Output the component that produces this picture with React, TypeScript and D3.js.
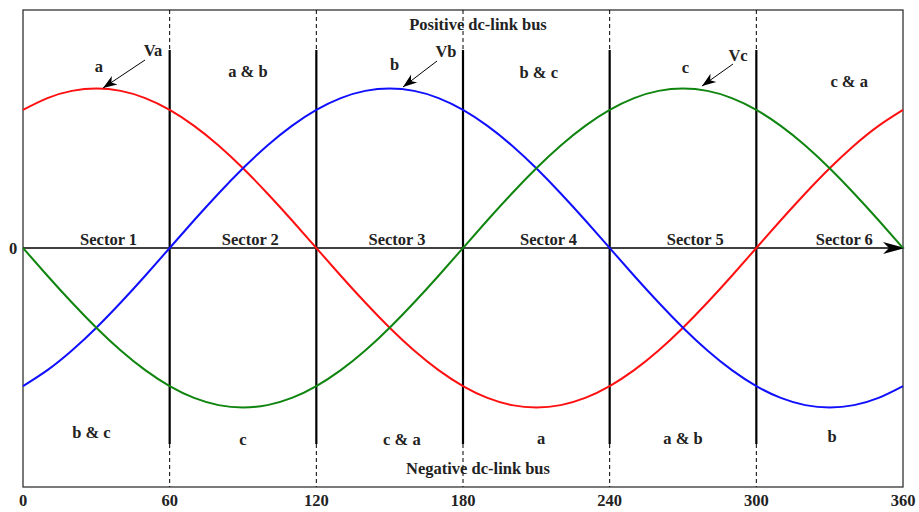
import React from "react";
import * as d3 from "d3";

const angles = [0,10,20,30,40,50,60,70,80,90,100,110,120,130,140,150,160,170,180,190,200,210,220,230,240,250,260,270,280,290,300,310,320,330,340,350,360];
const va = [0.866,0.940,0.985,1,0.985,0.940,0.866,0.766,0.643,0.5,0.342,0.174,0,-0.174,-0.342,-0.5,-0.643,-0.766,-0.866,-0.940,-0.985,-1,-0.985,-0.940,-0.866,-0.766,-0.643,-0.5,-0.342,-0.174,0,0.174,0.342,0.5,0.643,0.766,0.866];
const vb = [-0.866,-0.766,-0.643,-0.5,-0.342,-0.174,0,0.174,0.342,0.5,0.643,0.766,0.866,0.940,0.985,1,0.985,0.940,0.866,0.766,0.643,0.5,0.342,0.174,0,-0.174,-0.342,-0.5,-0.643,-0.766,-0.866,-0.940,-0.985,-1,-0.985,-0.940,-0.866];
const vc = [0,-0.174,-0.342,-0.5,-0.643,-0.766,-0.866,-0.940,-0.985,-1,-0.985,-0.940,-0.866,-0.766,-0.643,-0.5,-0.342,-0.174,0,0.174,0.342,0.5,0.643,0.766,0.866,0.940,0.985,1,0.985,0.940,0.866,0.766,0.643,0.5,0.342,0.174,0];
const ticks = [0, 60, 120, 180, 240, 300, 360];
const dividers = [60, 120, 180, 240, 300];
const sectorNames = ["Sector 1", "Sector 2", "Sector 3", "Sector 4", "Sector 5", "Sector 6"];
const topLabels = ["a", "a & b", "b", "b & c", "c", "c & a"];
const bottomLabels = ["b & c", "c", "c & a", "a", "a & b", "b"];
const phaseNames = ["Va", "Vb", "Vc"];

const W = 919, H = 512;
const x = d3.scaleLinear().domain([0, 360]).range([23, 903]);
const y = d3.scaleLinear().domain([-1, 1]).range([407.5, 88.5]);

const font = "'Liberation Serif', 'Times New Roman', serif";

export default function App() {
  const line = d3.line<number>().x((_, i) => x(angles[i])).y((d) => y(d)).curve(d3.curveNatural);
  const series = [
    { v: va, color: "#ff1010" },
    { v: vb, color: "#1010ff" },
    { v: vc, color: "#0f850f" },
  ];
  const top = 10, bottom = 487, y0 = y(0);
  const solidTop = 50, solidBot = 444;
  const topLabelY = [72, 77, 70, 78, 73, 87];
  const bottomLabelY = [438, 445, 445, 444, 444, 442];
  const topLabelX = [31, 92, 152, 211, 271, 338];
  const bottomLabelX = [28, 90, 155, 212, 270, 331];
  const sectorX = [35, 93, 153, 215, 275, 336];
  const ann = [
    { tx: 153, ty: 56, from: [145, 60], to: [103, 88] },
    { tx: 446, ty: 57, from: [437, 61], to: [403, 87] },
    { tx: 738, ty: 61, from: [733, 64], to: [702, 86] },
  ];
  return (
    <svg width={W} height={H} style={{ position: "absolute", left: 0, top: 0, background: "#fff" }} fontFamily={font} fontWeight="bold" fontSize={16.5}>
      <rect x={0} y={0} width={W} height={H} fill="#fff" />
      <rect x={x(0)} y={top} width={x(360) - x(0)} height={bottom - top} fill="none" stroke="#333" strokeWidth={1.3} />
      {dividers.map((d) => (
        <g key={d}>
          <line x1={x(d)} x2={x(d)} y1={top} y2={solidTop} stroke="#000" strokeWidth={1} strokeDasharray="4,3" />
          <line x1={x(d)} x2={x(d)} y1={solidTop} y2={solidBot} stroke="#000" strokeWidth={2.2} />
          <line x1={x(d)} x2={x(d)} y1={solidBot} y2={bottom} stroke="#000" strokeWidth={1} strokeDasharray="4,3" />
        </g>
      ))}
      <line x1={x(0)} x2={x(360)} y1={y0} y2={y0} stroke="#000" strokeWidth={1.3} />
      <path d={`M${x(360) - 20},${y0 - 6} L${x(360) + 2},${y0} L${x(360) - 20},${y0 + 6} L${x(360) - 14},${y0} Z`} fill="#000" />
      {series.map((s, i) => (
        <path key={i} d={line(s.v) || ""} fill="none" stroke={s.color} strokeWidth={2} />
      ))}
      {ticks.map((t) => (
        <text key={t} x={x(t)} y={506} textAnchor="middle" fill="#222">{t}</text>
      ))}
      <text x={13} y={254} textAnchor="middle" fill="#222">0</text>
      <text x={478} y={30} textAnchor="middle" fill="#222">Positive dc-link bus</text>
      <text x={478} y={474} textAnchor="middle" fill="#222">Negative dc-link bus</text>
      {sectorNames.map((s, i) => (
        <text key={s} x={x(sectorX[i])} y={245} textAnchor="middle" fill="#222">{s}</text>
      ))}
      {topLabels.map((s, i) => (
        <text key={i} x={x(topLabelX[i])} y={topLabelY[i]} textAnchor="middle" fill="#222">{s}</text>
      ))}
      {bottomLabels.map((s, i) => (
        <text key={i} x={x(bottomLabelX[i])} y={bottomLabelY[i]} textAnchor="middle" fill="#222">{s}</text>
      ))}
      {ann.map((a, i) => (
        <g key={i}>
          <text x={a.tx} y={a.ty} textAnchor="middle" fill="#222">{phaseNames[i]}</text>
          <line x1={a.from[0]} y1={a.from[1]} x2={a.to[0]} y2={a.to[1]} stroke="#000" strokeWidth={1} />
          <path
            d={(() => {
              const dx = a.to[0] - a.from[0], dy = a.to[1] - a.from[1];
              const L = Math.hypot(dx, dy), ux = dx / L, uy = dy / L;
              const px = -uy, py = ux, len = 14, w = 5, back = 10;
              const tx = a.to[0], ty = a.to[1];
              return `M${tx},${ty} L${tx - ux * len + px * w},${ty - uy * len + py * w} L${tx - ux * back},${ty - uy * back} L${tx - ux * len - px * w},${ty - uy * len - py * w} Z`;
            })()}
            fill="#000"
          />
        </g>
      ))}
    </svg>
  );
}
